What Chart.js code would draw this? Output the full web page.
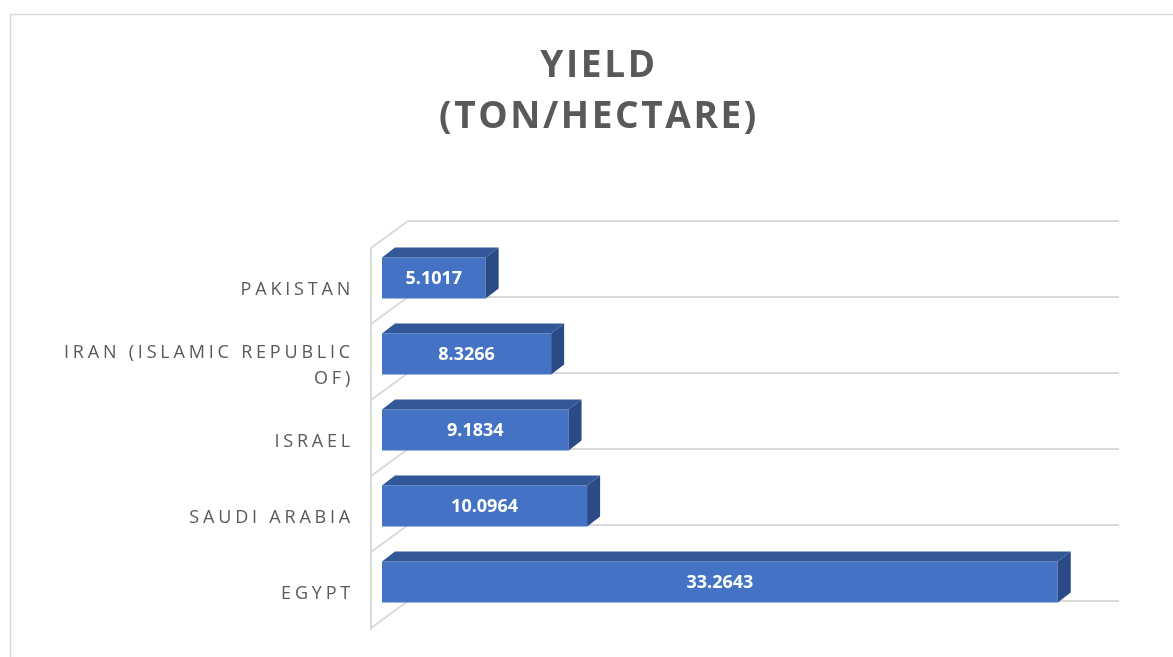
<!DOCTYPE html>
<html>
<head>
<meta charset="utf-8">
<script src="https://cdn.jsdelivr.net/npm/chart.js@4"></script>
<style>
  html, body { margin: 0; padding: 0; background: #fff; }
  #wrap { width: 1173px; height: 657px; }
</style>
</head>
<body>
<div id="wrap"><canvas id="yieldChart" width="1173" height="657"></canvas></div>
<script>
// Data
const countries = ['PAKISTAN', ['IRAN (ISLAMIC REPUBLIC', 'OF)'], 'ISRAEL', 'SAUDI ARABIA', 'EGYPT'];
const yields = [5.1017, 8.3266, 9.1834, 10.0964, 33.2643];
const titleLines = ['YIELD', '(TON/HECTARE)'];
const axisMax = 35;

const GRID = '#D9D9D9';
const FRONT = '#4472C4';
const TOP = '#33589A';
const SIDE = '#2B4B87';
const TEXT = '#595959';

// 3D offsets (pixels)
const backOff = { x: 26, y: -19 };   // bar front plane -> back wall
const frontOff = { x: -11, y: 8 };   // bar front plane -> side wall front edge
const barDepth = { x: 13, y: -10 };

const pseudo3d = {
  id: 'pseudo3d',
  beforeDatasetsDraw(chart) {
    const ctx = chart.ctx;
    const xs = chart.scales.x;
    const ys = chart.scales.y;
    const x0 = xs.getPixelForValue(0);
    const x1 = xs.getPixelForValue(axisMax);
    const n = countries.length;
    const step = (ys.bottom - ys.top) / n;

    ctx.save();
    // outer chart border
    ctx.strokeStyle = GRID;
    ctx.lineWidth = 1.5;
    ctx.strokeRect(10.5, 14.5, 3000, 3000);

    ctx.lineWidth = 2;
    ctx.strokeStyle = GRID;
    for (let i = 0; i <= n; i++) {
      const y = ys.top + i * step;
      const bx = x0 + backOff.x, by = y + backOff.y;
      const fx = x0 + frontOff.x, fy = y + frontOff.y;
      ctx.beginPath();
      ctx.moveTo(x1 + backOff.x, by);
      ctx.lineTo(bx, by);
      ctx.lineTo(fx, fy);
      ctx.stroke();
    }
    ctx.beginPath();
    ctx.moveTo(x0 + frontOff.x, ys.top + frontOff.y);
    ctx.lineTo(x0 + frontOff.x, ys.bottom + frontOff.y + 2);
    ctx.stroke();
    ctx.restore();
  },
  afterDatasetsDraw(chart) {
    const ctx = chart.ctx;
    const meta = chart.getDatasetMeta(0);
    ctx.save();
    meta.data.forEach((bar, i) => {
      const p = bar.getProps(['x', 'y', 'base', 'height'], true);
      const left = p.base, right = p.x;
      const top = p.y - p.height / 2, bot = p.y + p.height / 2;
      // top face
      ctx.fillStyle = TOP;
      ctx.beginPath();
      ctx.moveTo(left, top);
      ctx.lineTo(left + barDepth.x, top + barDepth.y);
      ctx.lineTo(right + barDepth.x, top + barDepth.y);
      ctx.lineTo(right, top);
      ctx.closePath();
      ctx.fill();
      // side face
      ctx.fillStyle = SIDE;
      ctx.beginPath();
      ctx.moveTo(right, top);
      ctx.lineTo(right + barDepth.x, top + barDepth.y);
      ctx.lineTo(right + barDepth.x, bot + barDepth.y);
      ctx.lineTo(right, bot);
      ctx.closePath();
      ctx.fill();
      // value label
      ctx.fillStyle = '#FFFFFF';
      ctx.font = 'bold 18px "Open Sans"';
      ctx.textAlign = 'center';
      ctx.textBaseline = 'middle';
      ctx.fillText(yields[i].toString(), (left + right) / 2, p.y + 1);
    });
    ctx.restore();
  },
  afterDraw(chart) {
    const ctx = chart.ctx;
    const ys = chart.scales.y;
    ctx.save();
    // title
    ctx.fillStyle = TEXT;
    ctx.font = 'bold 37px "Open Sans"';
    ctx.letterSpacing = '2.6px';
    ctx.textAlign = 'center';
    ctx.textBaseline = 'alphabetic';
    ctx.fillText(titleLines[0], 599, 77);
    ctx.fillText(titleLines[1], 599, 128);

    // category labels
    ctx.font = '18px "Open Sans"';
    ctx.letterSpacing = '3.8px';
    ctx.textAlign = 'right';
    countries.forEach((c, i) => {
      const yc = ys.getPixelForTick(i);
      if (Array.isArray(c)) {
        ctx.fillText(c[0], 354, yc + 4);
        ctx.fillText(c[1], 354, yc + 30);
      } else {
        ctx.fillText(c, 354, yc + 17);
      }
    });
    ctx.restore();
  }
};

new Chart(document.getElementById('yieldChart'), {
  type: 'bar',
  data: {
    labels: countries,
    datasets: [{
      data: yields,
      backgroundColor: FRONT,
      borderWidth: 0,
      barPercentage: 0.54,
      categoryPercentage: 1
    }]
  },
  options: {
    indexAxis: 'y',
    responsive: false,
    animation: false,
    layout: { padding: { left: 382, right: 80, top: 240, bottom: 37 } },
    scales: {
      x: { min: 0, max: axisMax, display: false },
      y: { display: false }
    },
    plugins: {
      legend: { display: false },
      tooltip: { enabled: false },
      title: { display: false }
    }
  },
  plugins: [pseudo3d]
});
</script>
</body>
</html>
